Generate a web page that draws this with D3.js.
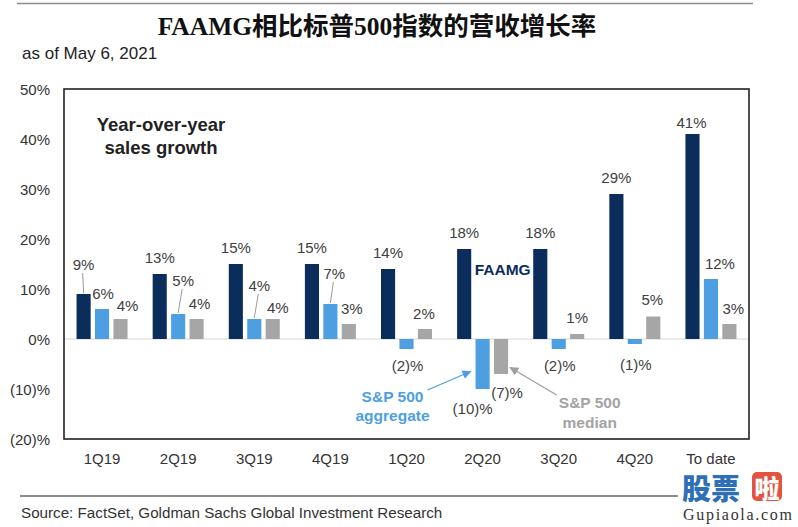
<!DOCTYPE html>
<html>
<head>
<meta charset="utf-8">
<script src="https://cdn.jsdelivr.net/npm/d3@7"></script>
<style>
  html, body { margin: 0; padding: 0; background: #fff; }
  svg { display: block; }
</style>
</head>
<body>
<div id="chart"></div>
<script>
// ---------------- data ----------------
const categories = ["1Q19", "2Q19", "3Q19", "4Q19", "1Q20", "2Q20", "3Q20", "4Q20", "To date"];
const faamg      = [9, 13, 15, 15, 14, 18, 18, 29, 41];
const spAggregate = [6, 5, 4, 7, -2, -10, -2, -1, 12];
const spMedian   = [4, 4, 4, 3, 2, -7, 1, 4.5, 3];
const yTicks     = [50, 40, 30, 20, 10, 0, -10, -20];
const seriesNames = ["FAAMG", "S&P 500 aggregate", "S&P 500 median"];

// ---------------- layout / style ----------------
const W = 798, H = 527;
const colors = ["#0b2d5c", "#4e9fe2", "#a6a6a6"];
const sans = "'Liberation Sans', Arial, sans-serif";

// label nudges (layout only): key "series,index" -> [dx, dy, leader]
const labelNudge = {
  "0,0": [0, -30, true],
  "0,8": [-1, -12, false],
  "1,0": [1, -16, false],
  "1,1": [5, -34, true],
  "1,2": [5, -34, true],
  "1,3": [4, -31, true],
  "1,5": [-10, 19, false],
  "1,7": [1, 20, false],
  "1,8": [9, -16, false],
  "2,0": [7, -14, false],
  "2,2": [5, -12, false],
  "2,4": [-1, -16, false],
  "2,5": [6, 18, false],
  "2,6": [0, -17, false],
  "2,7": [-1, -17, false],
  "2,8": [4, -16, false]
};

const svg = d3.select("#chart").append("svg").attr("width", W).attr("height", H);

const x = d3.scaleBand().domain(categories).range([64, 749]).padding(0);
const y = d3.scaleLinear().domain([-20, 50]).range([439, 89]);
const sub = d3.scaleBand().domain([0, 1, 2]).range([-25.5, 25.5]).paddingInner(0.235);
const fmt = v => { const r = Math.round(v); return r < 0 ? "(" + (-r) + ")%" : r + "%"; };

// top rule
svg.append("line").attr("x1", 17).attr("x2", 753).attr("y1", 3.5).attr("y2", 3.5)
  .attr("stroke", "#8a8a8a").attr("stroke-width", 1.5);

// title
svg.append("text").attr("x", 377).attr("y", 26).attr("text-anchor", "middle")
  .attr("dominant-baseline", "central")
  .style("font-family", "'Liberation Serif', 'Noto Sans CJK SC', serif")
  .style("font-weight", "bold").style("font-size", "25.5px").attr("fill", "#111")
  .text("FAAMG相比标普500指数的营收增长率");

svg.append("text").attr("x", 22).attr("y", 53).attr("dominant-baseline", "central")
  .style("font-family", sans).style("font-size", "17px").attr("fill", "#222")
  .text("as of May 6, 2021");

// zero line
svg.append("line").attr("x1", 64).attr("x2", 749).attr("y1", y(0)).attr("y2", y(0))
  .attr("stroke", "#d8d8d8").attr("stroke-width", 1.2);

// y tick labels
svg.append("g").selectAll("text").data(yTicks).join("text")
  .attr("x", 50).attr("y", d => y(d)).attr("text-anchor", "end")
  .attr("dominant-baseline", "central")
  .style("font-family", sans).style("font-size", "15px").attr("fill", "#333")
  .text(d => d < 0 ? "(" + (-d) + ")%" : d + "%");

// category labels
svg.append("g").selectAll("text").data(categories).join("text")
  .attr("x", d => x(d) + x.bandwidth() / 2).attr("y", 458).attr("text-anchor", "middle")
  .attr("dominant-baseline", "central")
  .style("font-family", sans).style("font-size", "15px").attr("fill", "#333")
  .text(d => d);

// bars
const seriesValues = [faamg, spAggregate, spMedian];
const flat = [];
seriesValues.forEach((vals, s) => vals.forEach((v, i) => flat.push({ s, i, v, c: categories[i] })));
const barX = d => x(d.c) + x.bandwidth() / 2 + sub(d.s);
const barC = d => barX(d) + sub.bandwidth() / 2;

svg.append("g").selectAll("rect").data(flat).join("rect")
  .attr("x", barX).attr("width", sub.bandwidth())
  .attr("y", d => y(Math.max(0, d.v)))
  .attr("height", d => Math.abs(y(d.v) - y(0)))
  .attr("fill", d => colors[d.s]);

// data labels
const lab = flat.map(d => {
  const n = labelNudge[d.s + "," + d.i];
  const def = d.v >= 0 ? [d.s === 0 ? 0 : (d.s === 1 ? 4 : 3), d.s === 0 ? -17 : -16, false] : [1, 16, false];
  const [dx, dy, leader] = n || def;
  return { ...d, lx: barC(d) + dx, ly: y(d.v) + dy, leader };
});

svg.append("g").selectAll("line").data(lab.filter(d => d.leader)).join("line")
  .attr("x1", d => d.lx - 1).attr("y1", d => d.ly + 9)
  .attr("x2", d => barC(d)).attr("y2", d => y(d.v) - 1)
  .attr("stroke", "#9a9a9a").attr("stroke-width", 1);

svg.append("g").selectAll("text").data(lab).join("text")
  .attr("x", d => d.lx).attr("y", d => d.ly).attr("text-anchor", "middle")
  .attr("dominant-baseline", "central")
  .style("font-family", sans).style("font-size", "15px").attr("fill", "#404040")
  .text(d => fmt(d.v));

// frame
svg.append("rect").attr("x", 64).attr("y", 89).attr("width", 685).attr("height", 350)
  .attr("fill", "none").attr("stroke", "#222").attr("stroke-width", 1.6);

// annotations
svg.append("text").attr("text-anchor", "middle").style("font-family", sans)
  .style("font-weight", "bold").style("font-size", "18.5px").attr("fill", "#222")
  .selectAll("tspan").data(["Year-over-year", "sales growth"]).join("tspan")
  .attr("x", 161).attr("y", (d, k) => 131 + k * 23).text(d => d);

const c2q20 = x("2Q20") + x.bandwidth() / 2;
svg.append("text").attr("x", c2q20 + 20).attr("y", y(14)).attr("text-anchor", "middle")
  .attr("dominant-baseline", "central")
  .style("font-family", sans).style("font-weight", "bold").style("font-size", "15.5px")
  .attr("fill", colors[0]).text("FAAMG");

const defs = svg.append("defs");
[["arrBlue", colors[1]], ["arrGray", "#a0a0a0"]].forEach(([id, col]) => {
  defs.append("marker").attr("id", id).attr("viewBox", "0 0 10 10").attr("refX", 9).attr("refY", 5)
    .attr("markerWidth", 9).attr("markerHeight", 9).attr("markerUnits", "userSpaceOnUse")
    .attr("orient", "auto")
    .append("path").attr("d", "M0,0L10,5L0,10z").attr("fill", col);
});

const c1q20 = x("1Q20") + x.bandwidth() / 2;
const c3q20 = x("3Q20") + x.bandwidth() / 2;
const blueBar2q20 = flat.find(d => d.s === 1 && d.c === "2Q20");
const grayBar2q20 = flat.find(d => d.s === 2 && d.c === "2Q20");

svg.append("line").attr("x1", c1q20 + 21).attr("y1", 390)
  .attr("x2", barX(blueBar2q20) - 5).attr("y2", y(-6.5))
  .attr("stroke", colors[1]).attr("stroke-width", 1.3).attr("marker-end", "url(#arrBlue)");
svg.append("line").attr("x1", c3q20 - 2).attr("y1", 395)
  .attr("x2", barX(grayBar2q20) + sub.bandwidth() + 2).attr("y2", y(-5.7))
  .attr("stroke", "#a0a0a0").attr("stroke-width", 1.3).attr("marker-end", "url(#arrGray)");

svg.append("text").attr("text-anchor", "middle").style("font-family", sans)
  .style("font-weight", "bold").style("font-size", "15.5px").attr("fill", colors[1])
  .selectAll("tspan").data(["S&P 500", "aggregate"]).join("tspan")
  .attr("x", c1q20 - 14).attr("y", (d, k) => 402 + k * 19).text(d => d);

svg.append("text").attr("text-anchor", "middle").style("font-family", sans)
  .style("font-weight", "bold").style("font-size", "15.5px").attr("fill", "#a3a3a3")
  .selectAll("tspan").data(["S&P 500", "median"]).join("tspan")
  .attr("x", c3q20 + 31).attr("y", (d, k) => 408 + k * 20).text(d => d);

// footer
svg.append("line").attr("x1", 20).attr("x2", 678).attr("y1", 496).attr("y2", 496)
  .attr("stroke", "#666").attr("stroke-width", 1.5);
svg.append("text").attr("x", 21).attr("y", 512).attr("dominant-baseline", "central")
  .style("font-family", sans).style("font-size", "15.2px").attr("fill", "#333")
  .text("Source: FactSet, Goldman Sachs Global Investment Research");

// watermark
const wm = svg.append("g");
wm.append("text").attr("x", 682).attr("y", 500)
  .style("font-family", "'Noto Sans CJK SC', sans-serif").style("font-weight", "900")
  .style("font-size", "29px").attr("fill", "#2f6fb5").text("股票");
wm.append("rect").attr("x", 752).attr("y", 472).attr("width", 30).attr("height", 29).attr("rx", 5)
  .attr("fill", "#e2543f");
wm.append("text").attr("x", 767).attr("y", 497.5).attr("text-anchor", "middle")
  .style("font-family", "'Noto Sans CJK SC', sans-serif").style("font-weight", "900")
  .style("font-size", "25px").attr("fill", "#fff").text("啦");
wm.append("text").attr("x", 683).attr("y", 520).attr("textLength", 109)
  .style("font-family", "'Liberation Serif', serif").style("font-size", "16px").attr("fill", "#333")
  .text("Gupiaola.com");
</script>
</body>
</html>
